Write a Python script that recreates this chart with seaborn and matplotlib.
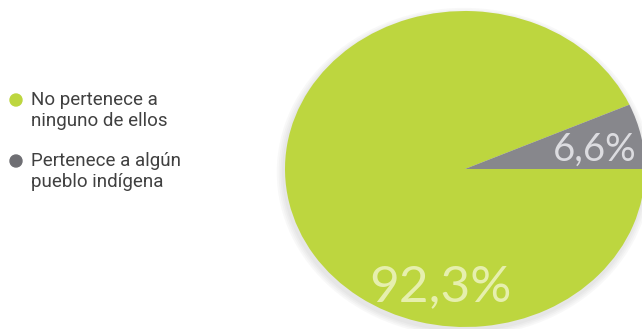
import matplotlib
matplotlib.use("Agg")
import matplotlib.pyplot as plt
import seaborn as sns
import numpy as np

categories = ["No pertenece a\nninguno de ellos", "Pertenece a algún\npueblo indígena"]
values = [92.3, 6.6]
value_labels = ["92,3%", "6,6%"]

sns.set_theme(style="white")
plt.rcParams['font.family'] = ['Roboto', 'DejaVu Sans']

colors = ["#bdd63f", "#87878c"]
marker_colors = ["#bdd63f", "#6e6e73"]

W, H = 642, 329
fig = plt.figure(figsize=(W / 100, H / 100), dpi=100)
fig.patch.set_facecolor("white")

# pie axes in pixel coords: center (465,169), rx 180, ry 158
cx, cy, rx, ry = 465, 169, 180, 158
ax = fig.add_axes([(cx - rx) / W, (H - cy - ry) / H, 2 * rx / W, 2 * ry / H])
ax.set_axis_off()

# soft shadow
for i in range(4):
    s = 1.0 + 0.01 * (i + 1)
    ax.pie([1], radius=s, colors=["#888888"], center=(-0.006, -0.02),
           wedgeprops=dict(alpha=0.05, linewidth=0))

start = 360 * values[1] / sum(values)
wedges, _ = ax.pie(values, colors=colors, startangle=start, counterclock=True,
                   radius=1.0, wedgeprops=dict(linewidth=0))
ax.set_xlim(-1, 1)
ax.set_ylim(-1, 1)
ax.set_aspect("auto")

ax.text(0.72, 0.12, value_labels[1], ha="center", va="center",
        fontsize=27.5, color="#dcdce0", family=["Lato", "DejaVu Sans"])
ax.text(-0.135, -0.75, value_labels[0], ha="center", va="center",
        fontsize=37, color="#e6efae", family=["Lato", "DejaVu Sans"])

# legend
pal = sns.color_palette(marker_colors)
leg_y = [100, 161]
for y, lab, c in zip(leg_y, categories, pal):
    fig.patches.append(matplotlib.patches.Ellipse((16 / W, 1 - y / H), 12 / W, 12 / H,
                                                  transform=fig.transFigure, color=c))
    fig.text(31 / W, 1 - (y - 9) / H, lab, ha="left", va="top", fontsize=13.5,
             color="#404040", linespacing=1.2)

fig.savefig("out.png", dpi=100, facecolor="white")
